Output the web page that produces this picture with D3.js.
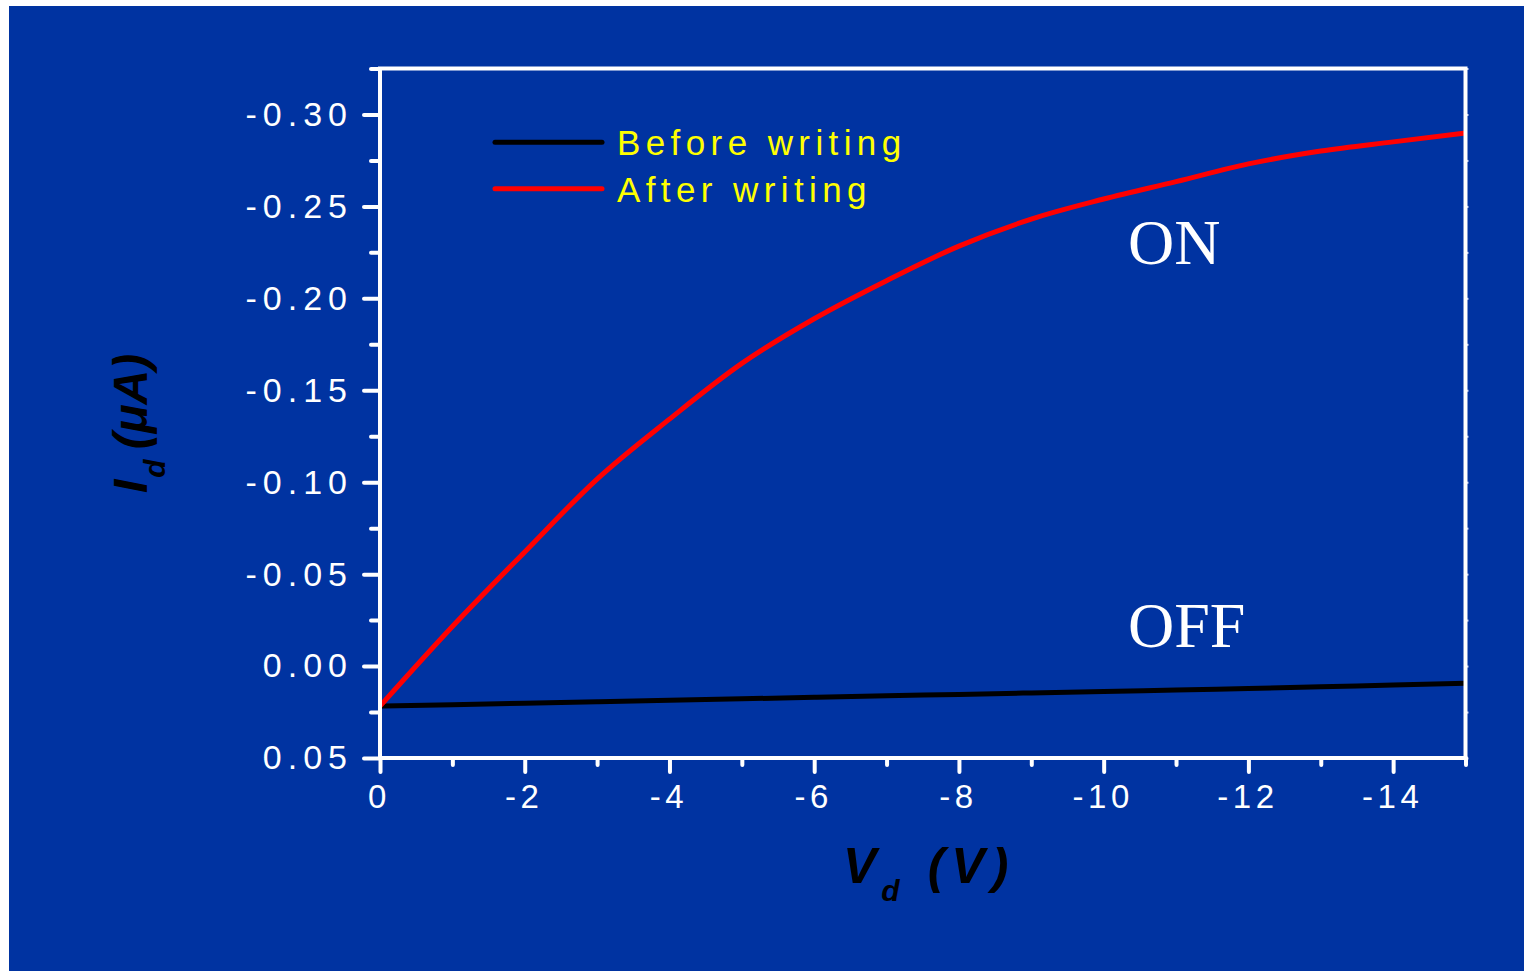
<!DOCTYPE html>
<html>
<head>
<meta charset="utf-8">
<script src="https://cdn.jsdelivr.net/npm/d3@7"></script>
<style>
  html, body { margin: 0; padding: 0; background: #ffffff; }
  svg { display: block; }
</style>
</head>
<body>
<svg id="chart" width="1524" height="971"></svg>
<script>
// Drain voltage (V) sampled at each volt
const voltage = [0, -1, -2, -3, -4, -5, -6, -7, -8, -9, -10, -11, -12, -13, -14, -15];
// Drain current (µA), before and after the write pulse
const beforeWriting = [0.0218, 0.0210, 0.0202, 0.0194, 0.0186, 0.0178, 0.0170, 0.0162,
                       0.0154, 0.0146, 0.0138, 0.0130, 0.0122, 0.0113, 0.0103, 0.0094];
const afterWriting  = [0.0218, -0.0215, -0.0621, -0.1017, -0.1343, -0.1646, -0.1889, -0.2096,
                       -0.2284, -0.2431, -0.2540, -0.2635, -0.2731, -0.2801, -0.2851, -0.2899];

const xMajorTicks = [0, -2, -4, -6, -8, -10, -12, -14];
const xMinorTicks = [-1, -3, -5, -7, -9, -11, -13, -15];
const yMajorTicks = [0.05, 0.00, -0.05, -0.10, -0.15, -0.20, -0.25, -0.30];
const yMinorTicks = [0.025, -0.025, -0.075, -0.125, -0.175, -0.225, -0.275, -0.325];
const seriesNames = ["Before writing", "After writing"];
const seriesColors = ["#000000", "#ff0000"];

const svg = d3.select("#chart");
const W = 1524, H = 971;
const BG = "#0033a1";
const sans = "'Liberation Sans', Arial, sans-serif";

// page background
svg.append("rect").attr("x", 9).attr("y", 6).attr("width", W - 9).attr("height", H - 6).attr("fill", BG);

const plotL = 380, plotR = 1465.5, plotT = 68.5, plotB = 758;
const x = d3.scaleLinear().domain([0, -15]).range([plotL, plotR]);
const y = d3.scaleLinear().domain([0.05, -0.325]).range([plotB, plotT]);

// data lines
const line = d3.line().x(d => x(d[0])).y(d => y(d[1])).curve(d3.curveMonotoneX);
[beforeWriting, afterWriting].forEach((vals, i) => {
  svg.append("path")
    .datum(voltage.map((v, k) => [v, vals[k]]))
    .attr("d", line)
    .attr("fill", "none")
    .attr("stroke", seriesColors[i])
    .attr("stroke-width", 5)
    .attr("stroke-linejoin", "round");
});

function styleTicks(g) {
  g.select(".domain").remove();
  g.selectAll(".tick line").attr("stroke", "#ffffff").attr("stroke-width", 4).attr("stroke-linecap", "round");
}

// left axis: major + minor
const yAxis = svg.append("g").attr("transform", `translate(${plotL},0)`)
  .call(d3.axisLeft(y).tickValues(yMajorTicks).tickSize(16).tickPadding(9).tickFormat(d3.format(".2f")))
  .call(styleTicks);
yAxis.selectAll(".tick text")
  .text(d => d3.format(".2f")(d).replace("\u2212", "-"))
  .attr("fill", "#ffffff").attr("font-family", sans).attr("font-size", 34)
  .attr("letter-spacing", "6px").attr("dx", -2);
svg.append("g").attr("transform", `translate(${plotL},0)`)
  .call(d3.axisLeft(y).tickValues(yMinorTicks).tickSize(9).tickFormat(""))
  .call(styleTicks);

// right axis: small stubs
svg.append("g").attr("transform", `translate(${plotR},0)`)
  .call(d3.axisRight(y).tickValues(yMajorTicks.concat(yMinorTicks)).tickSize(3).tickFormat(""))
  .call(g => { g.select(".domain").remove(); g.selectAll(".tick line").attr("stroke", "#c8d0ea").attr("stroke-width", 2); });

// bottom axis: major + minor
const xAxis = svg.append("g").attr("transform", `translate(0,${plotB})`)
  .call(d3.axisBottom(x).tickValues(xMajorTicks).tickSize(14).tickPadding(13).tickFormat(d3.format("d")))
  .call(styleTicks);
xAxis.selectAll(".tick text")
  .text(d => String(d))
  .attr("fill", "#ffffff").attr("font-family", sans).attr("font-size", 33)
  .attr("letter-spacing", "4.5px").attr("dx", -1);
svg.append("g").attr("transform", `translate(0,${plotB})`)
  .call(d3.axisBottom(x).tickValues(xMinorTicks).tickSize(7).tickFormat(""))
  .call(styleTicks);

// plot frame
svg.append("rect")
  .attr("x", plotL).attr("y", plotT)
  .attr("width", plotR - plotL).attr("height", plotB - plotT)
  .attr("fill", "none").attr("stroke", "#ffffff").attr("stroke-width", 4);

// legend
const legend = svg.append("g");
seriesNames.forEach((name, i) => {
  const ly = 142.3 + i * 46.4;
  legend.append("line")
    .attr("x1", 495).attr("x2", 602).attr("y1", ly).attr("y2", ly)
    .attr("stroke", seriesColors[i]).attr("stroke-width", 5).attr("stroke-linecap", "round");
  legend.append("text")
    .attr("x", 617).attr("y", ly + 13)
    .attr("fill", "#ffff00").attr("font-family", sans).attr("font-size", 35)
    .attr("letter-spacing", "5.4px")
    .text(name);
});

// state annotations
const serif = "'Liberation Serif', 'Times New Roman', serif";
svg.append("text").attr("x", 1128).attr("y", 264)
  .attr("fill", "#ffffff").attr("font-family", serif).attr("font-size", 64).text("ON");
svg.append("text").attr("x", 1128).attr("y", 647)
  .attr("fill", "#ffffff").attr("font-family", serif).attr("font-size", 64).text("OFF");

// axis titles
const xt = svg.append("text").attr("x", 843).attr("y", 883)
  .attr("fill", "#000000").attr("font-family", sans).attr("font-size", 50)
  .attr("font-weight", "bold").attr("font-style", "italic").attr("letter-spacing", "7px");
xt.append("tspan").text("V");
xt.append("tspan").attr("font-size", 30).attr("dy", 18).attr("dx", -2).text("d");
xt.append("tspan").attr("dy", -18).attr("dx", 21).text("(V)");

const yt = svg.append("text").attr("transform", "translate(147,493) rotate(-90)")
  .attr("fill", "#000000").attr("font-family", sans).attr("font-size", 48)
  .attr("font-weight", "bold").attr("font-style", "italic");
yt.append("tspan").text("I");
yt.append("tspan").attr("font-size", 30).attr("dy", 18).attr("dx", 2).text("d");
yt.append("tspan").attr("dy", -18).attr("dx", 10).text("(\u03bcA)");
</script>
</body>
</html>
